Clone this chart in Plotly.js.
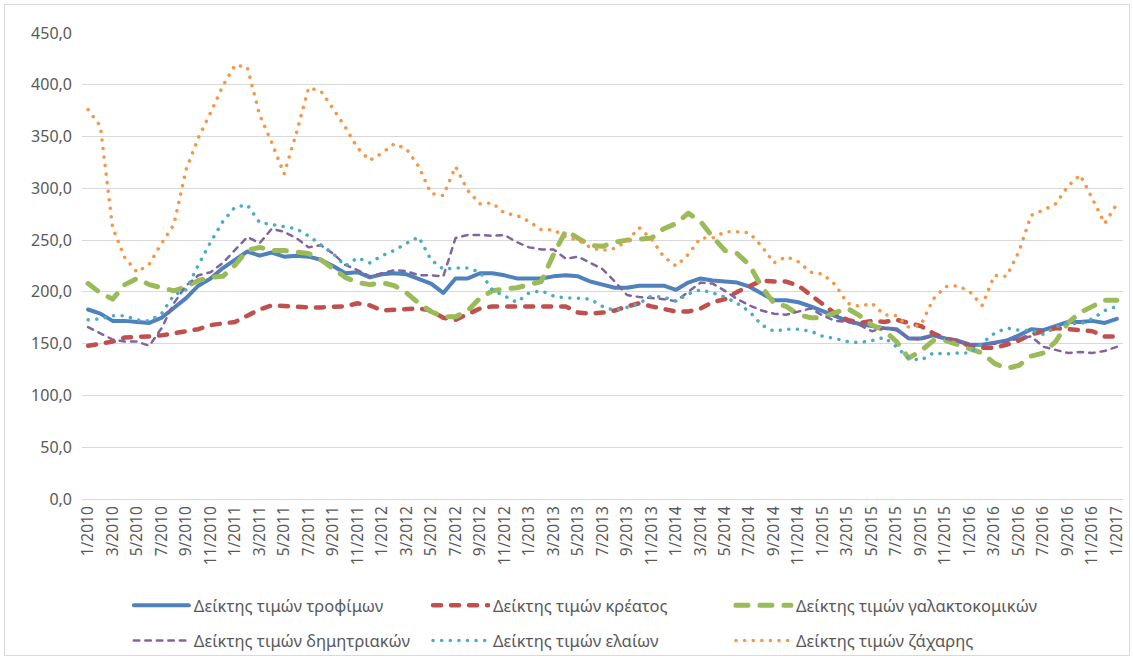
<!DOCTYPE html>
<html>
<head>
<meta charset="utf-8">
<script src="https://cdn.plot.ly/plotly-3.0.1.min.js"></script>
<style>
  html, body { margin: 0; padding: 0; background: #fff; }
  #chart { width: 1133px; height: 660px; }
  #frame { position: absolute; left: 4px; top: 4px; width: 1124px; height: 650px; border: 1px solid #D9D9D9; pointer-events: none; }
  .js-line { stroke-linecap: round; stroke-linejoin: round; }
</style>
</head>
<body>
<div id="chart"></div>
<div id="frame"></div>
<script>
const months = [
  "1/2010","2/2010","3/2010","4/2010","5/2010","6/2010","7/2010","8/2010","9/2010","10/2010","11/2010","12/2010",
  "1/2011","2/2011","3/2011","4/2011","5/2011","6/2011","7/2011","8/2011","9/2011","10/2011","11/2011","12/2011",
  "1/2012","2/2012","3/2012","4/2012","5/2012","6/2012","7/2012","8/2012","9/2012","10/2012","11/2012","12/2012",
  "1/2013","2/2013","3/2013","4/2013","5/2013","6/2013","7/2013","8/2013","9/2013","10/2013","11/2013","12/2013",
  "1/2014","2/2014","3/2014","4/2014","5/2014","6/2014","7/2014","8/2014","9/2014","10/2014","11/2014","12/2014",
  "1/2015","2/2015","3/2015","4/2015","5/2015","6/2015","7/2015","8/2015","9/2015","10/2015","11/2015","12/2015",
  "1/2016","2/2016","3/2016","4/2016","5/2016","6/2016","7/2016","8/2016","9/2016","10/2016","11/2016","12/2016",
  "1/2017"
];

const tickLabels = [
  "1/2010","3/2010","5/2010","7/2010","9/2010","11/2010",
  "1/2011","3/2011","5/2011","7/2011","9/2011","11/2011",
  "1/2012","3/2012","5/2012","7/2012","9/2012","11/2012",
  "1/2013","3/2013","5/2013","7/2013","9/2013","11/2013",
  "1/2014","3/2014","5/2014","7/2014","9/2014","11/2014",
  "1/2015","3/2015","5/2015","7/2015","9/2015","11/2015",
  "1/2016","3/2016","5/2016","7/2016","9/2016","11/2016",
  "1/2017"
];

const seriesNames = [
  "Δείκτης τιμών τροφίμων",
  "Δείκτης τιμών κρέατος",
  "Δείκτης τιμών γαλακτοκομικών",
  "Δείκτης τιμών δημητριακών",
  "Δείκτης τιμών ελαίων",
  "Δείκτης τιμών ζάχαρης"
];

const food = [183,179,172,172,171,170,175,184,194,206,213,223,
  231,239,235,238,234,235,234,231,225,218,219,214,
  217,218,217,212,208,199,213,213,218,218,216,213,
  213,213,215,216,215,210,207,204,204,206,206,206,
  202,209,213,211,210,209,205,199,192,192,190,186,
  181,176,172,169,167,165,164,155,155,158,155,153,
  149,149,151,153,158,164,163,167,171,171,172,170,
  174];

const meat = [148,150,152,156,156,157,158,160,161,164,168,170,
  171,177,183,187,186,185,185,185,185,186,189,187,
  182,183,184,184,182,175,173,179,184,186,186,186,
  185,186,185,186,180,179,180,182,186,189,186,184,
  181,181,184,190,193,200,206,211,210,210,206,197,
  187,179,173,170,172,171,173,170,167,160,155,152,
  148,146,146,149,153,159,162,165,164,163,162,157,
  157];

const dairy = [208,199,193,207,213,207,204,201,205,211,214,215,
  226,240,243,240,240,239,237,231,222,214,209,207,
  209,206,199,189,181,176,176,182,194,201,203,204,
  207,210,236,259,252,245,244,248,250,251,252,261,
  266,276,268,253,240,237,226,205,189,186,178,175,
  175,180,184,177,168,163,152,136,143,153,153,149,
  145,141,131,126,129,138,141,152,170,180,186,192,
  192];

const cereals = [166,160,154,152,152,148,165,189,206,216,219,228,
  241,253,247,261,258,252,243,245,237,226,221,215,
  218,221,220,216,216,215,252,255,255,254,255,248,
  243,241,241,232,234,228,222,210,197,195,194,193,
  191,200,209,208,201,193,187,182,179,178,181,184,
  177,172,171,168,162,165,163,155,154,158,155,152,
  148,149,150,152,155,157,147,144,141,142,141,143,
  147];

const oils = [173,174,177,177,173,172,179,197,202,226,248,268,
  282,284,267,265,263,261,254,246,237,225,233,228,
  235,240,247,253,231,222,223,223,219,202,196,190,
  199,201,196,194,194,193,186,182,185,189,196,195,
  191,198,202,199,195,189,181,168,162,164,164,162,
  157,155,152,151,153,156,147,136,134,141,140,141,
  141,150,160,165,163,163,159,166,170,169,174,182,
  186];

const sugar = [376,360,262,233,219,227,247,265,318,349,373,399,
  419,417,371,344,314,353,397,394,377,359,339,327,
  334,343,338,321,295,293,321,298,285,286,276,274,
  268,260,260,253,250,243,240,242,249,262,251,234,
  225,236,252,252,258,258,257,244,228,234,229,219,
  217,207,189,186,189,178,177,166,168,193,205,206,
  200,187,216,215,239,274,279,285,302,313,290,266,
  285];

const seriesValues = [food, meat, dairy, cereals, oils, sugar];
const seriesColors = ["#4F81BD","#C0504D","#9BBB59","#8064A2","#4BACC6","#F79646"];
const seriesWidths = [4, 4.5, 5, 2.5, 3.5, 3.5];
const seriesDash = ["solid", "8px,10px", "12px,12px", "5.5px,6px", "0.1px,8.5px", "0.1px,8.5px"];
const legendIds = ["legend", "legend2", "legend3", "legend4", "legend5", "legend6"];

const traces = seriesValues.map((vals, k) => ({
  type: "scatter",
  mode: "lines",
  name: seriesNames[k],
  legend: legendIds[k],
  x: months,
  y: vals,
  line: { color: seriesColors[k], width: seriesWidths[k], dash: seriesDash[k] },
  hoverinfo: "x+y+name"
}));

const fontFam = "'Noto Sans', 'Open Sans', sans-serif";

function legendAt(x, y) {
  return {
    orientation: "h",
    x: x,
    xanchor: "left",
    y: y,
    yanchor: "top",
    itemwidth: 55,
    font: { family: fontFam, size: 16.5, color: "#595959" },
    bgcolor: "rgba(0,0,0,0)"
  };
}

const colX = [0.045, 0.3324, 0.6234];
const rowY = [-0.191, -0.2665];

const layout = {
  width: 1133,
  height: 660,
  margin: { l: 82, r: 10, t: 33, b: 161, autoexpand: false },
  paper_bgcolor: "#ffffff",
  plot_bgcolor: "#ffffff",
  separators: ",.",
  showlegend: true,
  font: { family: fontFam, color: "#595959", size: 14 },
  xaxis: {
    type: "category",
    range: [-0.5, 84.5],
    tickmode: "array",
    tickvals: tickLabels,
    ticktext: tickLabels,
    tickangle: -90,
    ticks: "",
    showgrid: false,
    showline: true,
    linecolor: "#D9D9D9",
    linewidth: 1,
    zeroline: false,
    automargin: false,
    tickfont: { family: fontFam, size: 15.5, color: "#595959" },
    fixedrange: true
  },
  yaxis: {
    range: [0, 450],
    tickmode: "linear",
    tick0: 0,
    dtick: 50,
    tickformat: ".1f",
    showgrid: true,
    gridcolor: "#D9D9D9",
    gridwidth: 1,
    zeroline: false,
    showline: false,
    ticks: "",
    automargin: false,
    ticklabelstandoff: 9,
    tickfont: { family: fontFam, size: 16, color: "#595959" },
    fixedrange: true
  },
  legend: legendAt(colX[0], rowY[0]),
  legend2: legendAt(colX[1], rowY[0]),
  legend3: legendAt(colX[2], rowY[0]),
  legend4: legendAt(colX[0], rowY[1]),
  legend5: legendAt(colX[1], rowY[1]),
  legend6: legendAt(colX[2], rowY[1])
};

Plotly.newPlot("chart", traces, layout, { displayModeBar: false });
</script>
</body>
</html>
